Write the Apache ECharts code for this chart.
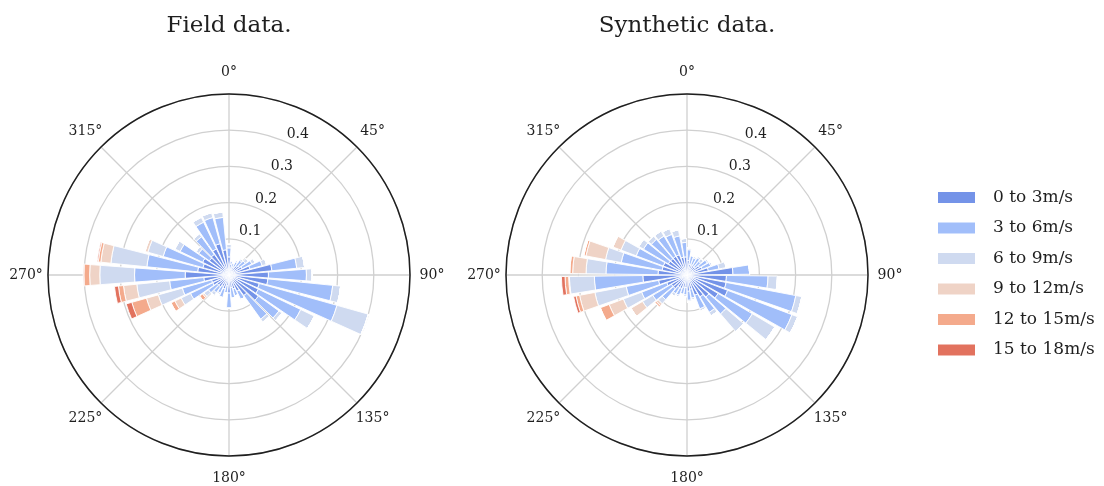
<!DOCTYPE html>
<html><head><meta charset="utf-8">
<script src="https://cdn.jsdelivr.net/npm/echarts@6/dist/echarts.min.js"></script>
<style>html,body{margin:0;padding:0;background:#fff}#c{width:1104px;height:486px}</style>
</head><body><div id="c"></div>
<script>
// Direction categories (degrees, clockwise from north)
const DIRS_FIELD = ['0','10','20','30','40','50','60','70','80','90','100','110','120','130','140','150','160','170','180','190','200','210','220','230','240','250','260','270','280','290','300','310','320','330','340','350'];
const DIRS_SYNTH = ['5','15','25','35','45','55','65','75','85','95','105','115','125','135','145','155','165','175','185','195','205','215','225','235','245','255','265','275','285','295','305','315','325','335','345','355'];
const SPEED_BINS = ['0 to 3m/s','3 to 6m/s','6 to 9m/s','9 to 12m/s','12 to 15m/s','15 to 18m/s'];
const COLORS = ['#7493e8','#a1befa','#cfdaf0','#efd3c6','#f4aa8c','#e2725e'];
const ANGLE_TICKS = [0,45,90,135,180,225,270,315];
const RADIAL_TICKS = [0.1,0.2,0.3,0.4];

// Field data: frequency per speed bin, per direction
const FIELD_0_3   = [0.05,0.03,0.02,0.025,0.03,0.035,0.04,0.06,0.119,0.109,0.108,0.087,0.09,0.1,0.07,0.05,0.04,0.035,0.05,0.03,0.04,0.035,0.04,0.04,0.05,0.05,0.07,0.121,0.087,0.075,0.081,0.067,0.07,0.08,0.09,0.07];
const FIELD_3_6   = [0.025,0.01,0.015,0.015,0.02,0.02,0.03,0.035,0.069,0.105,0.18,0.223,0.13,0.07,0.08,0.025,0.02,0.03,0.042,0.02,0.025,0.02,0.02,0.03,0.068,0.084,0.095,0.14,0.141,0.114,0.069,0.036,0.06,0.082,0.075,0.09];
const FIELD_6_9   = [0.01,0,0,0.005,0.005,0.01,0.01,0.013,0.022,0.016,0.022,0.09,0.042,0.01,0.01,0,0,0,0,0,0,0.005,0.01,0.015,0.029,0.069,0.091,0.096,0.1,0.044,0.016,0.009,0.01,0.015,0.014,0.015];
const FIELD_9_12  = [0,0,0,0,0,0,0,0,0,0,0,0,0,0,0,0,0,0,0,0,0,0,0,0.005,0.019,0.034,0.037,0.028,0.028,0.008,0,0,0,0,0,0];
const FIELD_12_15 = [0,0,0,0,0,0,0,0,0,0,0,0,0,0,0,0,0,0,0,0,0,0,0,0.01,0.012,0.042,0.014,0.016,0.007,0,0,0,0,0,0,0];
const FIELD_15_18 = [0,0,0,0,0,0,0,0,0,0,0,0,0,0,0,0,0,0,0,0,0,0,0,0,0,0.016,0.011,0.002,0.003,0,0,0,0,0,0,0];

// Synthetic data
const SYNTH_0_3   = [0.04,0.03,0.03,0.03,0.03,0.04,0.045,0.06,0.127,0.109,0.11,0.12,0.1,0.08,0.07,0.06,0.04,0.045,0.035,0.035,0.04,0.04,0.05,0.05,0.06,0.08,0.122,0.08,0.07,0.07,0.06,0.06,0.06,0.06,0.05,0.05];
const SYNTH_3_6   = [0.03,0.025,0.02,0.025,0.02,0.025,0.025,0.03,0.046,0.115,0.196,0.19,0.11,0.062,0.05,0.04,0.025,0.025,0.02,0.02,0.02,0.02,0.04,0.06,0.074,0.091,0.134,0.144,0.115,0.08,0.08,0.07,0.065,0.06,0.06,0.04];
const SYNTH_6_9   = [0.005,0,0.005,0.005,0.01,0.005,0.005,0.02,0,0.026,0.017,0.017,0.072,0.064,0.011,0.006,0.005,0.005,0.005,0,0.005,0.008,0.015,0.033,0.054,0.088,0.069,0.055,0.044,0.045,0.015,0.012,0.016,0.017,0.017,0.011];
const SYNTH_9_12  = [0,0,0,0,0,0,0,0,0,0,0,0,0,0,0,0,0,0,0,0,0,0,0.007,0.037,0.042,0.043,0.002,0.037,0.055,0.024,0,0,0,0,0,0];
const SYNTH_12_15 = [0,0,0,0,0,0,0,0,0,0,0,0,0,0,0,0,0,0,0,0,0,0,0.005,0,0.026,0.01,0.01,0.008,0.006,0,0,0,0,0,0,0];
const SYNTH_15_18 = [0,0,0,0,0,0,0,0,0,0,0,0,0,0,0,0,0,0,0,0,0,0,0,0,0,0.007,0.01,0,0,0,0,0,0,0,0,0];

const FIELD = [FIELD_0_3,FIELD_3_6,FIELD_6_9,FIELD_9_12,FIELD_12_15,FIELD_15_18];
const SYNTH = [SYNTH_0_3,SYNTH_3_6,SYNTH_6_9,SYNTH_9_12,SYNTH_12_15,SYNTH_15_18];

const FONT = 'DejaVu Serif';
const TXT = '#1f1f1f';
const GRID = '#d0d0d0';
const R = 181;
const R_LABEL = 203;
const CENTERS = [[229,275],[687,275]];

const polar = [], angleAxis = [], radiusAxis = [], series = [];
function addRose(ci, dirs, startAngle, data, stackName) {
  const base = polar.length;
  for (let k = 0; k < 3; k++) polar.push({center: CENTERS[ci], radius: R});
  polar.push({center: CENTERS[ci], radius: R_LABEL});
  // grid polar
  angleAxis.push({polarIndex: base, type:'value', min:0, max:360, interval:45, startAngle:90, clockwise:true, z:0,
    axisLine:{lineStyle:{color:TXT, width:1.5}}, axisTick:{show:false}, axisLabel:{show:false},
    splitLine:{lineStyle:{color:GRID, width:1.3}}});
  radiusAxis.push({polarIndex: base, type:'value', min:0, max:0.5, interval:0.1, z:0,
    axisLine:{show:false}, axisTick:{show:false}, axisLabel:{show:false},
    splitLine:{lineStyle:{color:GRID, width:1.3}}});
  // radial tick labels along a ray 26deg clockwise from north
  angleAxis.push({polarIndex: base+1, type:'value', min:0, max:360, startAngle:64, clockwise:true, show:false});
  radiusAxis.push({polarIndex: base+1, type:'value', min:0, max:0.5, interval:1/30, z:5,
    axisLine:{show:false}, axisTick:{show:false}, splitLine:{show:false},
    axisLabel:{margin:0, align:'center', verticalAlign:'middle', fontFamily:FONT, fontSize:14, color:TXT,
      showMinLabel:false, showMaxLabel:false,
      formatter: v => { const k = Math.round(v*30); const t = Math.round((k-1)/3)/10;
        return ((k-1) % 3 === 0 && RADIAL_TICKS.includes(t)) ? t.toFixed(1) : ''; }}});
  // bars polar
  angleAxis.push({polarIndex: base+2, type:'category', data: dirs, startAngle: startAngle, clockwise:true, show:false, boundaryGap:true});
  radiusAxis.push({polarIndex: base+2, type:'value', min:0, max:0.5, show:false});
  // angle-label polar (labels centred on a circle just outside the frame)
  angleAxis.push({polarIndex: base+3, type:'value', min:0, max:360, startAngle:90, clockwise:true, show:false});
  radiusAxis.push({polarIndex: base+3, type:'value', min:0, max:1, show:false});
  series.push({type:'scatter', coordinateSystem:'polar', polarIndex: base+3, silent:true,
    symbol:'circle', symbolSize:1, itemStyle:{color:'rgba(255,255,255,0)'},
    data: ANGLE_TICKS.map(a => [1, a]),
    label:{show:true, position:'inside', fontFamily:FONT, fontSize:14, color:TXT, opacity:1,
      textBorderWidth:0, formatter: p => p.value[1] + '°'}});
  SPEED_BINS.forEach((name, i) => {
    series.push({type:'bar', name, coordinateSystem:'polar', polarIndex: base+2, stack: stackName,
      data: data[i], barCategoryGap:'14%', silent:true,
      itemStyle:{color: COLORS[i], borderColor:'#ffffff', borderWidth:0.9}});
  });
}
addRose(0, DIRS_FIELD, 95, FIELD, 'field');
addRose(1, DIRS_SYNTH, 90, SYNTH, 'synth');

const chart = echarts.init(document.getElementById('c'), null, {renderer:'canvas'});
chart.setOption({
  animation:false,
  backgroundColor:'#ffffff',
  polar, angleAxis, radiusAxis, series,
  legend:{data: SPEED_BINS, orient:'vertical', left:931, top:184, itemWidth:39, itemHeight:13, itemGap:13.5,
    icon:'rect', selectedMode:false,
    textStyle:{fontFamily:FONT, fontSize:17, color:TXT, padding:[0,0,0,12]}},
  graphic:[
    {type:'text', x:229, y:26, style:{text:'Field data.', align:'center', verticalAlign:'middle', font:'23px "DejaVu Serif"', fill:TXT}},
    {type:'text', x:687, y:26, style:{text:'Synthetic data.', align:'center', verticalAlign:'middle', font:'23px "DejaVu Serif"', fill:TXT}}
  ]
});
</script></body></html>
